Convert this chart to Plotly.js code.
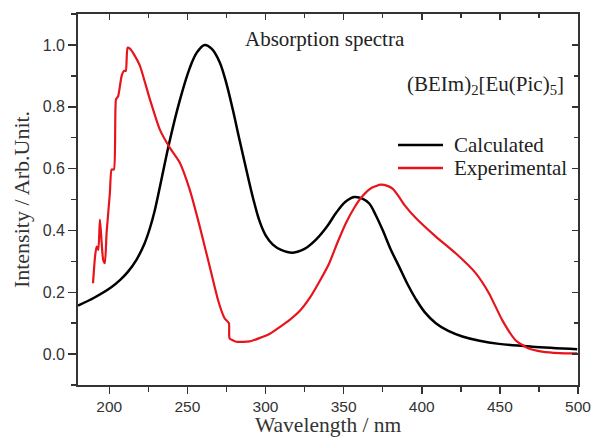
<!DOCTYPE html>
<html>
<head>
<meta charset="utf-8">
<script src="https://cdn.plot.ly/plotly-3.0.1.min.js"></script>
<style>html,body{margin:0;padding:0;background:#fff;}#chart{width:595px;height:438px;}</style>
</head>
<body>
<div id="chart"></div>
<script>
// Calculated spectrum (wavelength nm, normalized intensity)
const calcX = [180, 190.6, 201.3, 207, 211.9, 217.4, 222.6, 226, 229, 232.5, 238.7, 245.1, 251.5, 256, 261, 265.5, 270.6, 275, 279.1, 283.5, 287.7, 292, 296.2, 300, 304.7, 310, 317.4, 325, 332.3, 339, 345.1, 351, 356.8, 362, 366.4, 370.5, 374.9, 380, 385.5, 391, 396.2, 402, 409, 417, 426, 437, 449.4, 470.6, 499.5];
const calcY = [0.157, 0.183, 0.216, 0.24, 0.266, 0.305, 0.358, 0.407, 0.462, 0.543, 0.69, 0.82, 0.925, 0.975, 1.0, 0.988, 0.945, 0.875, 0.79, 0.69, 0.597, 0.505, 0.43, 0.385, 0.354, 0.337, 0.328, 0.34, 0.37, 0.41, 0.456, 0.492, 0.508, 0.503, 0.487, 0.45, 0.402, 0.34, 0.283, 0.225, 0.178, 0.135, 0.1, 0.075, 0.057, 0.043, 0.033, 0.024, 0.016];

// Experimental spectrum
const expX = [189.6, 190.9, 191.9, 193, 194, 194.7, 196.1, 197.2, 198.3, 200.4, 201.5, 203, 204.3, 205.7, 207.9, 209.4, 210.6, 211.7, 213.2, 216, 219.6, 226, 232.3, 238.7, 245.1, 251.5, 257.9, 264.3, 269.6, 273.8, 276.6, 277, 281.3, 289.8, 302.5, 315.3, 322, 328.1, 334, 340.8, 346, 351.5, 357, 362.1, 368, 373.8, 378, 381.3, 385, 389, 396.2, 409, 421.7, 434.5, 443, 451.5, 460, 468.5, 477, 488, 499.5];
const expY = [0.229, 0.315, 0.348, 0.337, 0.435, 0.392, 0.305, 0.294, 0.392, 0.521, 0.597, 0.597, 0.824, 0.834, 0.899, 0.916, 0.916, 0.991, 0.988, 0.968, 0.933, 0.824, 0.727, 0.668, 0.62, 0.532, 0.413, 0.283, 0.175, 0.116, 0.1, 0.051, 0.04, 0.041, 0.065, 0.11, 0.14, 0.18, 0.23, 0.294, 0.36, 0.424, 0.475, 0.511, 0.538, 0.548, 0.544, 0.535, 0.512, 0.482, 0.44, 0.38, 0.326, 0.262, 0.197, 0.11, 0.045, 0.018, 0.008, 0.003, 0.002];

const seriesNames = ['Calculated', 'Experimental'];
const seriesColors = ['#000000', '#e8141c'];

const xTickVals = [200, 250, 300, 350, 400, 450, 500];
const yTickVals = [0.0, 0.2, 0.4, 0.6, 0.8, 1.0];
const yTickText = ['0.0', '0.2', '0.4', '0.6', '0.8', '1.0'];

const axisCol = '#333';
const tickFont = {family: 'Liberation Sans, Arial, sans-serif', size: 16, color: '#333'};
const xTickFont = {family: 'Liberation Sans, Arial, sans-serif', size: 15.5, color: '#333'};
const serif = 'Liberation Serif, Times New Roman, serif';

const traces = [
  {x: calcX, y: calcY, type: 'scatter', mode: 'lines', name: seriesNames[0], showlegend: false,
   line: {color: seriesColors[0], width: 2.5, shape: 'spline', smoothing: 1}},
  {x: expX, y: expY, type: 'scatter', mode: 'lines', name: seriesNames[1], showlegend: false,
   line: {color: seriesColors[1], width: 2.2, shape: 'spline', smoothing: 0.5}}
];

// legend drawn as paper-positioned samples + labels
const legX0 = 0.64, legX1 = 0.73, legTx = 0.748;
const legY = [0.647, 0.585];
const shapes = legY.map((y, i) => ({type: 'line', xref: 'paper', yref: 'paper', x0: legX0, x1: legX1, y0: y, y1: y,
  line: {color: seriesColors[i], width: 2.5}}));
const legendAnn = legY.map((y, i) => ({text: seriesNames[i], xref: 'paper', yref: 'paper', x: legTx, y: y,
  xanchor: 'left', yanchor: 'middle', showarrow: false, font: {family: serif, size: 21, color: '#222'}}));

const layout = {
  width: 595, height: 438,
  margin: {l: 78, r: 17, t: 14, b: 53},
  paper_bgcolor: '#fff', plot_bgcolor: '#fff',
  showlegend: false,
  xaxis: {range: [180, 500], tickvals: xTickVals, ticks: 'outside', ticklen: 7, tickwidth: 1.5, tickcolor: axisCol,
          minor: {dtick: 25, tick0: 175, ticks: 'outside', ticklen: 5, tickwidth: 1.5, tickcolor: axisCol, showgrid: false},
          showline: true, linewidth: 1.8, linecolor: axisCol, showgrid: false, zeroline: false,
          tickfont: xTickFont},
  yaxis: {range: [-0.1, 1.1], tickvals: yTickVals, ticktext: yTickText, ticks: 'outside', ticklen: 8, tickwidth: 1.5, tickcolor: axisCol,
          minor: {dtick: 0.1, tick0: 0.1, ticks: 'outside', ticklen: 5, tickwidth: 1.5, tickcolor: axisCol, showgrid: false},
          showline: true, linewidth: 1.8, linecolor: axisCol, showgrid: false, zeroline: false,
          tickfont: tickFont,
          title: {text: 'Intensity / Arb.Unit.', font: {family: serif, size: 22, color: '#333'}, standoff: 7}},
  xaxis2: {overlaying: 'x', side: 'top', range: [180, 500], tickvals: xTickVals, ticks: 'inside', ticklen: 6, tickwidth: 1.5, tickcolor: axisCol,
           minor: {dtick: 25, tick0: 175, ticks: 'inside', ticklen: 4, tickwidth: 1.5, tickcolor: axisCol},
           showticklabels: false, showline: true, linewidth: 1.8, linecolor: axisCol, showgrid: false, zeroline: false},
  yaxis2: {overlaying: 'y', side: 'right', range: [-0.1, 1.1], tickvals: yTickVals, ticks: 'inside', ticklen: 6, tickwidth: 1.5, tickcolor: axisCol,
           minor: {dtick: 0.1, tick0: 0.1, ticks: 'inside', ticklen: 4, tickwidth: 1.5, tickcolor: axisCol},
           showticklabels: false, showline: true, linewidth: 1.8, linecolor: axisCol, showgrid: false, zeroline: false},
  shapes: shapes,
  annotations: [
    {text: 'Wavelength / nm', xref: 'paper', yref: 'paper', x: 0.5, y: -0.108, xanchor: 'center', yanchor: 'middle',
     showarrow: false, font: {family: serif, size: 21.5, color: '#333'}},
    {text: 'Absorption spectra', xref: 'paper', yref: 'paper', x: 0.494, y: 0.933, xanchor: 'center', yanchor: 'middle',
     showarrow: false, font: {family: serif, size: 21, color: '#222'}},
    {text: '(BEIm)<sub>2</sub>[Eu(Pic)<sub>5</sub>]', xref: 'paper', yref: 'paper', x: 0.976, y: 0.809, xanchor: 'right', yanchor: 'middle',
     showarrow: false, font: {family: serif, size: 21, color: '#222'}}
  ].concat(legendAnn)
};

// invisible point to activate the mirrored overlay axes
traces.push({x: [180], y: [0], xaxis: 'x2', yaxis: 'y2', mode: 'markers', marker: {opacity: 0}, showlegend: false, hoverinfo: 'skip'});

Plotly.newPlot('chart', traces, layout, {displayModeBar: false, staticPlot: true});
</script>
</body>
</html>
